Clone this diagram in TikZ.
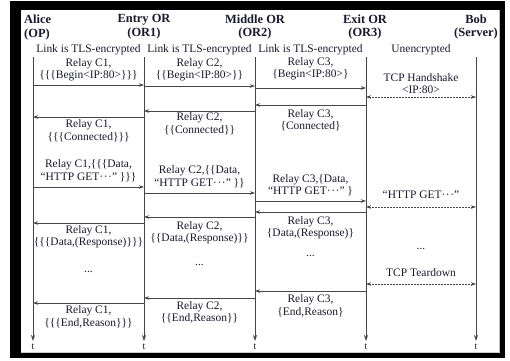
\documentclass[tikz,border=0pt]{standalone}
\usepackage{fontspec}
\setmainfont{Liberation Serif}
\usetikzlibrary{arrows.meta}
\definecolor{txt}{RGB}{25,25,45}
\definecolor{ln}{RGB}{70,70,70}
\newcommand{\mydots}{·\kern0.6pt·\kern0.6pt·}
\begin{document}
\begin{tikzpicture}[x=1bp,y=-1bp,
  lbl/.style={text=txt,inner sep=0pt,align=center,font=\fontsize{11.5}{12.5}\selectfont},
  tlbl/.style={text=txt,inner sep=0pt,font=\fontsize{10}{11}\selectfont},
  hdr/.style={text=txt,inner sep=0pt,align=center,font=\fontsize{12.5}{14}\selectfont\bfseries},
  life/.style={draw=ln,line width=0.8bp,-{Stealth[length=6bp,width=4bp]}},
  msg/.style={draw=ln,line width=0.8bp,-{Stealth[length=5bp,width=3.5bp]}},
  unenc/.style={draw=ln,line width=0.8bp,{Stealth[length=5bp,width=3.5bp]}-{Stealth[length=5bp,width=3.5bp]},dash pattern=on 2bp off 1bp}]
\useasboundingbox (0,0) rectangle (510,360);
% frame
\fill[black] (10,1) rectangle (505,358);
\fill[white] (21,10) rectangle (500,352.5);
\fill[black!25] (498.5,10) rectangle (500,352.5);
\fill[black!20] (21,351.5) rectangle (500,352.5);
% headers
\node[hdr,align=left,anchor=west] (hA) at (24,27.5) {Alice\\(OP)};
\node[hdr] (hE) at (144,27) {Entry OR\\(OR1)};
\node[hdr] (hM) at (255,27) {Middle OR\\(OR2)};
\node[hdr] (hX) at (365,27) {Exit OR\\(OR3)};
\node[hdr] (hB) at (476,27) {Bob\\(Server)};
% link labels
\node[lbl] (l1) at (88.5,50) {Link is TLS-encrypted};
\node[lbl] (l2) at (199.5,50) {Link is TLS-encrypted};
\node[lbl] (l3) at (310.5,50) {Link is TLS-encrypted};
\node[lbl] (l4) at (421,50) {Unencrypted};
% lifelines
\coordinate (A) at (33,57);  \coordinate (Ab) at (33,341);
\coordinate (E) at (144,57); \coordinate (Eb) at (144,341);
\coordinate (M) at (255,57); \coordinate (Mb) at (255,341);
\coordinate (X) at (366,57); \coordinate (Xb) at (366,341);
\coordinate (B) at (476,57); \coordinate (Bb) at (476,341);
\draw[life] (A) -- (Ab);
\draw[life] (E) -- (Eb);
\draw[life] (M) -- (Mb);
\draw[life] (X) -- (Xb);
\draw[life] (B) -- (Bb);
\node[tlbl] (tA) at (33,346.5) {t};
\node[tlbl] (tE) at (144,346.5) {t};
\node[tlbl] (tM) at (255,346.5) {t};
\node[tlbl] (tX) at (366,346.5) {t};
\node[tlbl] (tB) at (476,346.5) {t};
% begin
\draw[msg] (A |- 0,85) -- (E |- 0,85);
\draw[msg] (E |- 0,86) -- (M |- 0,86);
\draw[msg] (M |- 0,88) -- (X |- 0,88);
\draw[unenc] (X |- 0,97) -- (B |- 0,97);
\node[lbl] (b1) at (88.5,69.5) {Relay C1,\\\{\{\{Begin<IP:80>\}\}\}};
\node[lbl] (b2) at (199.5,69.5) {Relay C2,\\\{\{Begin<IP:80>\}\}};
\node[lbl] (b3) at (310.5,68.5) {Relay C3,\\\{Begin<IP:80>\}};
\node[lbl] (b4) at (421,83.5) {TCP Handshake\\<IP:80>};
% connected
\draw[msg] (X |- 0,105) -- (M |- 0,105);
\draw[msg] (M |- 0,111) -- (E |- 0,111);
\draw[msg] (E |- 0,117) -- (A |- 0,117);
\node[lbl] (c3) at (310.5,120.5) {Relay C3,\\\{Connected\}};
\node[lbl] (c2) at (199.5,124) {Relay C2,\\\{\{Connected\}\}};
\node[lbl] (c1) at (88.5,131) {Relay C1,\\\{\{\{Connected\}\}\}};
% data
\draw[msg] (A |- 0,187) -- (E |- 0,187);
\draw[msg] (E |- 0,193) -- (M |- 0,193);
\draw[msg] (M |- 0,201) -- (X |- 0,201);
\draw[unenc] (X |- 0,207) -- (B |- 0,207);
\node[lbl] (d1) at (88.5,171) {Relay C1,\{\{\{Data,\\“HTTP GET\mydots” \}\}\}};
\node[lbl] (d2) at (199.5,177) {Relay C2,\{\{Data,\\“HTTP GET\mydots” \}\}};
\node[lbl] (d3) at (310.5,185.5) {Relay C3,\{Data,\\“HTTP GET\mydots” \}};
\node[lbl] (d4) at (421,195) {“HTTP GET\mydots”};
% response
\draw[msg] (X |- 0,212) -- (M |- 0,212);
\draw[msg] (M |- 0,217) -- (E |- 0,217);
\draw[msg] (E |- 0,223) -- (A |- 0,223);
\node[lbl] (r3) at (310.5,228) {Relay C3,\\\{Data,(Response)\}};
\node[lbl] (r2) at (199.5,232.5) {Relay C2,\\\{\{Data,(Response)\}\}};
\node[lbl] (r1) at (88.5,237) {Relay C1,\\\{\{\{Data,(Response)\}\}\}};
\node[lbl] (e1) at (88.5,272) {...};
\node[lbl] (e2) at (199.5,265) {...};
\node[lbl] (e3) at (310.5,256) {...};
\node[lbl] (e4) at (421,249) {...};
% teardown
\node[lbl] (t4) at (421,273) {TCP Teardown};
\draw[unenc] (X |- 0,284) -- (B |- 0,284);
% end
\draw[msg] (X |- 0,291) -- (M |- 0,291);
\draw[msg] (M |- 0,298) -- (E |- 0,298);
\draw[msg] (E |- 0,303) -- (A |- 0,303);
\node[lbl] (n3) at (310.5,306) {Relay C3,\\\{End,Reason\}};
\node[lbl] (n2) at (199.5,312.5) {Relay C2,\\\{\{End,Reason\}\}};
\node[lbl] (n1) at (88.5,317) {Relay C1,\\\{\{\{End,Reason\}\}\}};
\end{tikzpicture}
\end{document}
